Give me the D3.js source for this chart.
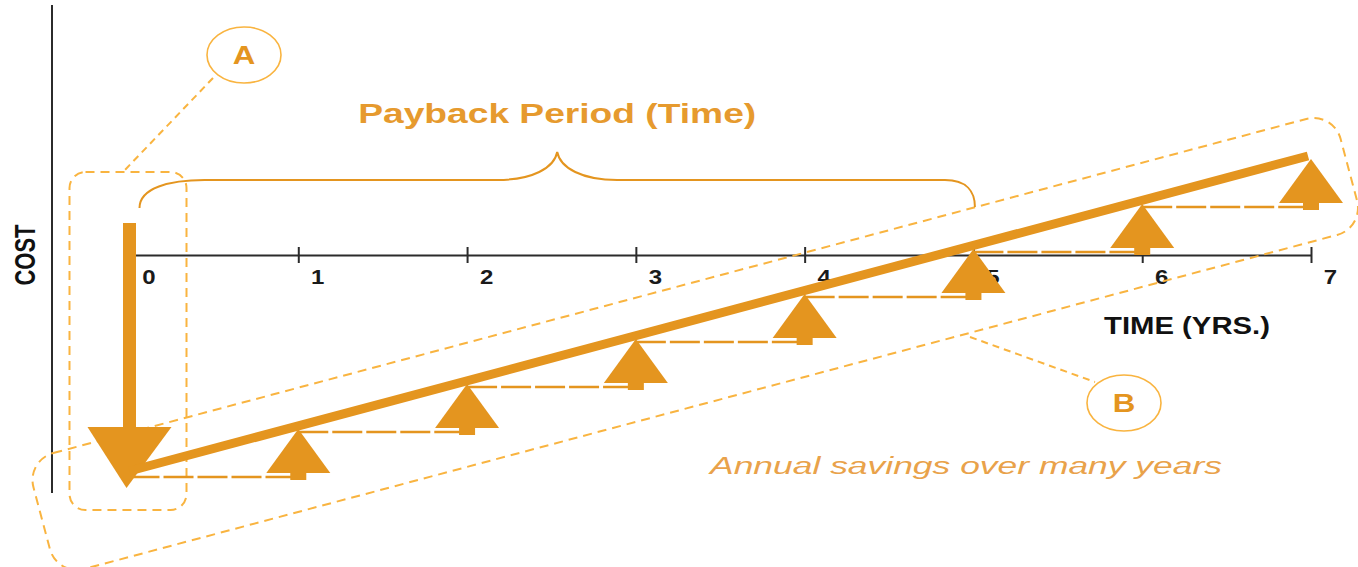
<!DOCTYPE html>
<html>
<head>
<meta charset="utf-8">
<script src="https://cdn.jsdelivr.net/npm/d3@7"></script>
<style>
  html, body { margin: 0; padding: 0; background: #ffffff; }
  svg { display: block; }
  text { font-family: "Liberation Sans", Arial, sans-serif; }
</style>
</head>
<body>
<svg id="chart" width="1358" height="567"></svg>
<script>
// ---- data ----
const years = [0, 1, 2, 3, 4, 5, 6, 7];
const tickLabels = ["0", "1", "2", "3", "4", "5", "6", "7"];
const initialCost = 4.8;                       // cost at year 0 (below axis)
const annualSavings = [1, 1, 1, 1, 1, 1, 1];   // savings added each year 1..7
const paybackYear = 5;                         // brace end
const titleText = "Payback Period (Time)";
const xAxisTitle = "TIME (YRS.)";
const yAxisTitle = "COST";
const noteText = "Annual savings over many years";
const labelA = "A";
const labelB = "B";

// ---- styles ----
const ORANGE = "#E4951F";
const TEXT_ORANGE = "#E69A2E";
const NOTE_ORANGE = "#E9A24A";
const DASH = "#F9B440";
const AXIS = "#2b2b2b";

const cumulative = Array.from(d3.cumsum([-initialCost, ...annualSavings]));

const svg = d3.select("#chart");
const x = d3.scaleLinear().domain([0, 7]).range([129.5, 1311]);
const y = d3.scaleLinear().domain([-5, 3]).range([480, 120]);
const x0 = x(0), y0 = y(0);

function stretchText(g, str, px, py, size, weight, sx, fill, anchor, extra) {
  return g.append("text")
    .attr("transform", `translate(${px},${py}) scale(${sx},1)` + (extra || ""))
    .attr("text-anchor", anchor || "middle")
    .attr("font-size", size)
    .attr("font-weight", weight)
    .attr("fill", fill)
    .text(str);
}

// ---- vertical COST axis ----
svg.append("line")
  .attr("x1", 52).attr("x2", 52).attr("y1", 5).attr("y2", 493)
  .attr("stroke", AXIS).attr("stroke-width", 2);
stretchText(svg, yAxisTitle, 35, y0, 22, "bold", 1.3, "#111", "middle", " rotate(-90)");

// ---- time axis ----
const axis = d3.axisBottom(x).tickValues(years)
  .tickFormat((d, i) => tickLabels[i]).tickSizeOuter(0).tickSizeInner(8);
const gx = svg.append("g").attr("transform", `translate(0,${y0})`).call(axis);
gx.select(".domain").attr("stroke", AXIS).attr("stroke-width", 2);
gx.selectAll(".tick line").attr("y1", -8).attr("y2", 8).attr("stroke", AXIS).attr("stroke-width", 2);
gx.selectAll(".tick text")
  .attr("x", null).attr("y", null).attr("dy", null)
  .attr("transform", "translate(19,29) scale(1.2,1)")
  .attr("font-size", 20).attr("font-weight", "bold")
  .attr("font-family", "Liberation Sans, Arial, sans-serif")
  .attr("fill", "#1a1a1a");
stretchText(svg, xAxisTitle, 1187, 334, 24, "bold", 1.22, "#111", "middle");

// ---- dashed box A ----
svg.append("rect")
  .attr("x", x0 - 60).attr("y", y0 - 83).attr("width", 117).attr("height", 338)
  .attr("rx", 16)
  .attr("fill", "none").attr("stroke", DASH).attr("stroke-width", 2)
  .attr("stroke-dasharray", "9,6");

// ---- dashed box B (rotated along the savings line) ----
const yStart = y(cumulative[0]), yEnd = y(cumulative[cumulative.length - 1]);
const dx = x(7) - x0, dy = yStart - yEnd;
const ang = Math.atan2(dy, dx) * 180 / Math.PI;
const L = Math.sqrt(dx * dx + dy * dy);
svg.append("g")
  .attr("transform", `translate(${x0},${yStart}) rotate(${-ang})`)
  .append("rect")
  .attr("x", -97).attr("y", -37).attr("width", L + 130).attr("height", 120)
  .attr("rx", 28)
  .attr("fill", "none").attr("stroke", DASH).attr("stroke-width", 2)
  .attr("stroke-dasharray", "9,6");

// ---- leaders and callout circles ----
svg.append("line").attr("x1", 213).attr("y1", 78).attr("x2", 123).attr("y2", 172)
  .attr("stroke", DASH).attr("stroke-width", 2).attr("stroke-dasharray", "7,5");
svg.append("line").attr("x1", 970).attr("y1", 337).attr("x2", 1095).attr("y2", 382)
  .attr("stroke", DASH).attr("stroke-width", 2).attr("stroke-dasharray", "7,5");
svg.append("ellipse").attr("cx", 244).attr("cy", 55).attr("rx", 37).attr("ry", 28)
  .attr("fill", "#fff").attr("stroke", DASH).attr("stroke-width", 1.6);
svg.append("ellipse").attr("cx", 1124).attr("cy", 403).attr("rx", 37).attr("ry", 28)
  .attr("fill", "#fff").attr("stroke", DASH).attr("stroke-width", 1.6);
stretchText(svg, labelA, 244, 64, 25, "bold", 1.25, ORANGE, "middle");
stretchText(svg, labelB, 1124, 412, 25, "bold", 1.25, ORANGE, "middle");

// ---- step lines ----
const steps = annualSavings.map((s, i) => ({ i: i + 1, prev: cumulative[i], cur: cumulative[i + 1] }));
svg.selectAll(".step").data(steps).enter().append("line")
  .attr("x1", d => x(d.i - 1)).attr("x2", d => x(d.i))
  .attr("y1", d => y(d.prev) + 6).attr("y2", d => y(d.prev) + 6)
  .attr("stroke", ORANGE).attr("stroke-width", 2.5)
  .attr("stroke-dasharray", "30,4");

// ---- up arrows (annual savings) ----
svg.selectAll(".stem").data(steps).enter().append("rect")
  .attr("x", d => x(d.i) - 8).attr("width", 16)
  .attr("y", d => y(d.prev) + 1).attr("height", 8)
  .attr("fill", ORANGE);
svg.selectAll(".tri").data(steps).enter().append("path")
  .attr("d", d => {
    const tx = x(d.i), ty = y(d.cur) + 3, by = y(d.prev) + 2;
    return `M${tx},${ty}L${tx + 32},${by}L${tx - 32},${by}Z`;
  })
  .attr("fill", ORANGE);

// ---- initial cost down arrow ----
svg.append("rect")
  .attr("x", x0 - 6.5).attr("width", 13)
  .attr("y", y0 - 32).attr("height", (yStart - 44) - (y0 - 32) + 1)
  .attr("fill", ORANGE);
svg.append("path")
  .attr("d", `M${x0 - 42},${yStart - 44}L${x0 + 42},${yStart - 44}L${x0 - 3},${yStart + 17}Z`)
  .attr("fill", ORANGE);

// ---- cumulative savings line ----
svg.append("line")
  .attr("x1", x0).attr("y1", yStart).attr("x2", x(7) - 3).attr("y2", yEnd)
  .attr("stroke", ORANGE).attr("stroke-width", 9);

// ---- brace ----
const bl = x0 + 10, br = x(paybackYear) + 1.5, bm = (bl + br) / 2, by = 180;
const p = d3.path();
p.moveTo(bl, by + 28);
p.bezierCurveTo(bl, by + 8, bl + 30, by, bl + 65, by);
p.lineTo(bm - 60, by);
p.bezierCurveTo(bm - 25, by, bm - 3, by - 12, bm, by - 28);
p.bezierCurveTo(bm + 3, by - 12, bm + 25, by, bm + 60, by);
p.lineTo(br - 30, by);
p.bezierCurveTo(br - 8, by, br, by + 12, br, by + 27);
svg.append("path").attr("d", p.toString())
  .attr("fill", "none").attr("stroke", ORANGE).attr("stroke-width", 2);

// ---- texts ----
svg.append("text").attr("x", bm).attr("y", 123)
  .attr("text-anchor", "middle").attr("font-size", 27).attr("font-weight", "bold")
  .attr("fill", TEXT_ORANGE)
  .attr("textLength", 398).attr("lengthAdjust", "spacingAndGlyphs")
  .text(titleText);
svg.append("text").attr("x", 966).attr("y", 474)
  .attr("text-anchor", "middle").attr("font-size", 23).attr("font-style", "italic")
  .attr("fill", NOTE_ORANGE)
  .attr("textLength", 512).attr("lengthAdjust", "spacingAndGlyphs")
  .text(noteText);
</script>
</body>
</html>
